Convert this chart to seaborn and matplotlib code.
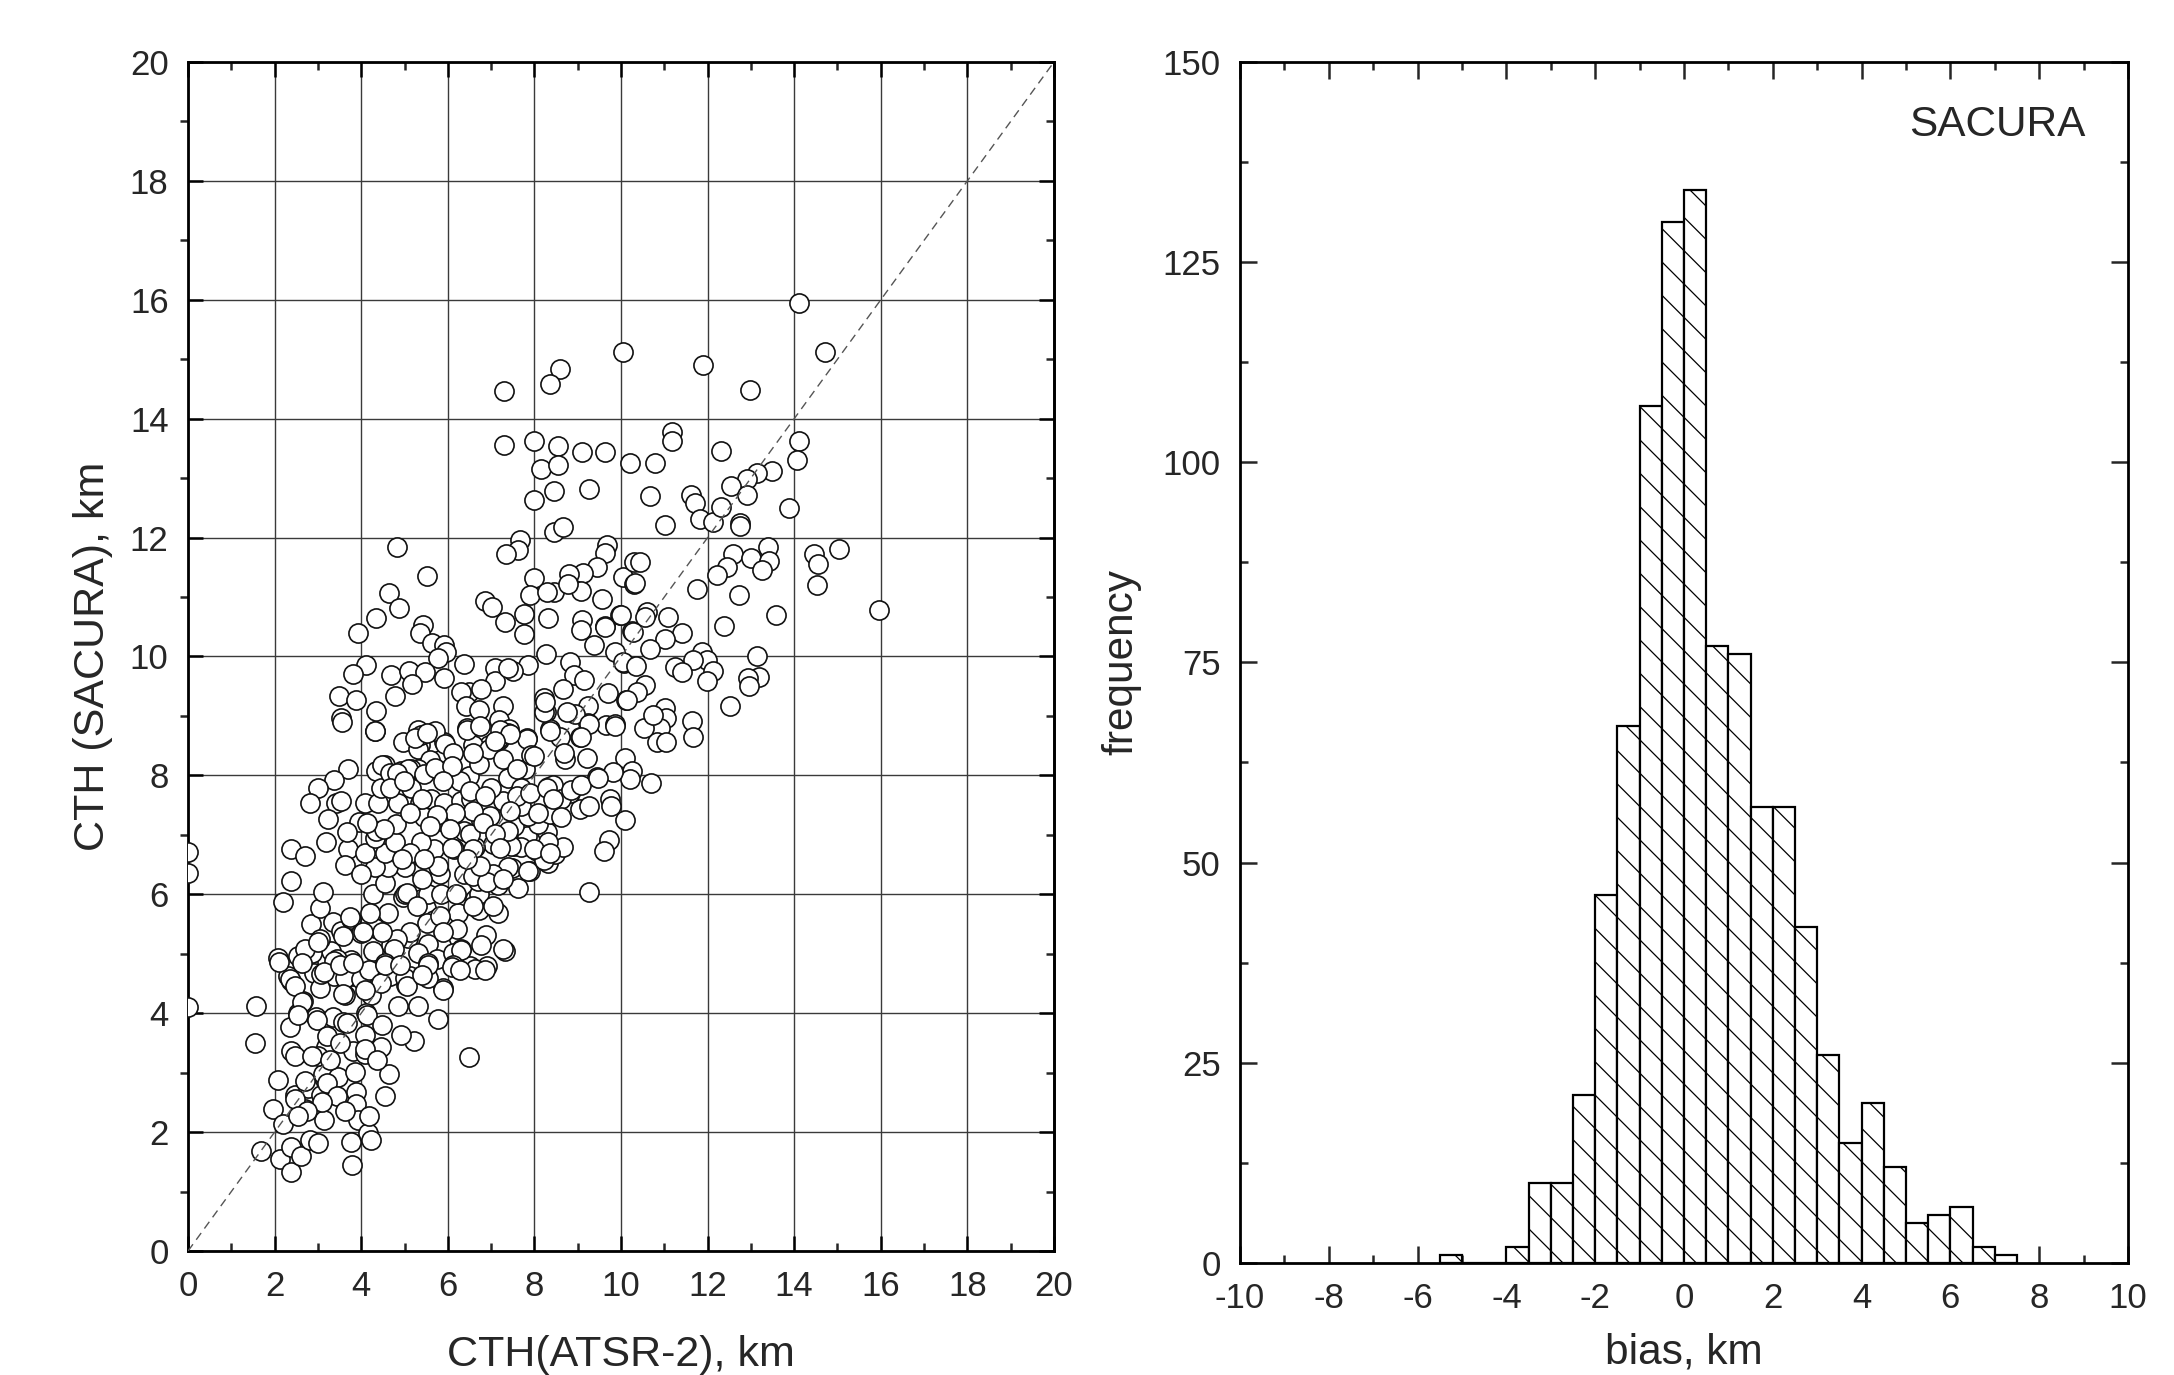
import numpy as np
import pandas as pd
import matplotlib
matplotlib.use("Agg")
import matplotlib.pyplot as plt
from matplotlib.ticker import MultipleLocator
import seaborn as sns

# --- scatter: (CTH ATSR-2, CTH SACURA) in km ---
high_points = [
    (10.05, 15.12), (8.59, 14.83), (8.36, 14.59), (7.3, 14.46), (14.12, 15.94), (14.71, 15.12),
    (11.9, 14.9), (12.97, 14.48), (7.3, 13.55), (8.0, 13.63), (8.55, 13.54), (9.09, 13.44),
    (9.62, 13.44), (10.2, 13.25), (8.16, 13.16), (8.54, 13.22), (8.46, 12.78), (9.25, 12.82),
    (8.0, 12.63), (8.46, 12.09), (8.67, 12.17), (14.1, 13.63), (14.07, 13.31), (11.17, 13.78),
    (11.17, 13.63), (12.31, 13.45), (10.78, 13.25), (13.48, 13.12), (13.13, 13.08), (12.9, 12.98),
    (12.55, 12.87), (12.9, 12.72), (13.89, 12.49), (10.66, 12.7), (11.61, 12.72), (11.71, 12.58),
    (11.82, 12.31), (12.13, 12.27), (12.32, 12.51), (12.76, 12.25), (12.76, 12.2), (11.02, 12.22),
    (4.83, 11.85), (7.67, 11.96), (7.62, 11.79), (7.35, 11.73), (5.53, 11.35), (9.68, 11.87),
    (9.64, 11.74), (9.45, 11.51), (9.12, 11.41), (8.8, 11.39), (7.98, 11.32), (10.04, 11.34),
    (10.3, 11.59), (10.3, 11.22), (4.65, 11.06), (4.88, 10.82), (4.35, 10.64), (3.93, 10.40),
    (7.9, 11.04), (8.46, 11.08), (8.29, 11.09), (9.08, 11.1), (8.77, 11.22), (6.85, 10.94),
    (7.02, 10.83), (9.55, 10.97), (10.44, 11.59), (10.32, 11.24), (11.75, 11.14), (12.59, 11.73),
    (12.44, 11.51), (12.21, 11.37), (13.0, 11.65), (13.4, 11.85), (13.42, 11.6), (13.25, 11.45),
    (14.46, 11.73), (14.55, 11.55), (14.53, 11.21), (15.04, 11.81), (12.73, 11.04), (15.96, 10.78),
    (13.58, 10.69), (12.38, 10.52),
]

middle_points = [
    (7.75, 10.72), (7.32, 10.58), (8.32, 10.65), (9.1, 10.61), (9.08, 10.44), (9.62, 10.51),
    (9.97, 10.7), (10.25, 10.43), (7.77, 10.37), (9.38, 10.19), (5.42, 10.53), (5.36, 10.39),
    (5.64, 10.23), (5.92, 10.19), (5.95, 10.07), (5.77, 9.97), (8.27, 10.04), (7.85, 9.85),
    (8.83, 9.91), (8.92, 9.69), (9.15, 9.6), (9.86, 10.07), (10.06, 9.89), (4.12, 9.85),
    (3.82, 9.7), (3.48, 9.33), (3.87, 9.27), (3.54, 8.96), (4.35, 9.08), (4.31, 8.75),
    (4.68, 9.69), (5.1, 9.76), (5.48, 9.74), (5.92, 9.63), (5.18, 9.54), (4.77, 9.33),
    (6.38, 9.87), (7.08, 9.8), (7.09, 9.58), (7.5, 9.75), (7.38, 9.8), (6.48, 9.41),
    (6.31, 9.41), (6.77, 9.46), (6.42, 9.16), (6.73, 9.1), (7.27, 9.17), (7.18, 8.93),
    (7.41, 8.78), (6.45, 8.79), (8.23, 9.31), (8.27, 9.07), (8.36, 8.78), (8.58, 8.65),
    (9.06, 8.64), (8.65, 9.46), (9.23, 9.17), (9.23, 8.88), (9.65, 8.85), (9.85, 8.87),
    (9.69, 9.38), (10.12, 9.26), (7.83, 8.63), (7.19, 8.6), (6.96, 8.51), (6.58, 8.51),
    (5.92, 8.57), (5.71, 8.74), (5.31, 8.77), (4.96, 8.57), (5.35, 8.51), (10.59, 10.75),
    (10.55, 10.66), (11.09, 10.66), (11.42, 10.4), (11.02, 10.3), (10.67, 10.13), (9.99, 10.7),
    (10.28, 10.42), (9.63, 10.5), (10.05, 9.9), (10.35, 9.84), (11.87, 10.07), (11.98, 9.94),
    (12.13, 9.76), (11.98, 9.58), (11.67, 9.94), (11.25, 9.83), (11.41, 9.74), (13.15, 10.0),
    (13.18, 9.66), (12.94, 9.63), (12.96, 9.5), (12.52, 9.16), (11.65, 8.92), (11.66, 8.65),
    (11.02, 9.13), (11.05, 8.96), (10.9, 8.79), (10.82, 8.57), (11.05, 8.57), (10.52, 8.79),
    (10.75, 9.02), (10.55, 9.52), (10.36, 9.41), (10.13, 9.27), (8.94, 9.04),
]

right_points = [
    (10.09, 8.3), (10.25, 8.08), (10.21, 7.94), (10.69, 7.87), (9.82, 8.05), (9.44, 7.97),
    (9.75, 7.6), (9.78, 7.49), (10.09, 7.25), (9.73, 6.91), (9.61, 6.73), (9.27, 6.04),
    (7.61, 6.1), (7.32, 5.04), (7.52, 6.81), (7.9, 6.39), (7.48, 6.45), (8.32, 6.53),
    (8.48, 6.67), (8.67, 6.79), (8.05, 6.73), (8.28, 7.04), (7.82, 6.98), (7.52, 7.15),
    (8.09, 7.18), (7.86, 7.32), (8.36, 7.35), (8.59, 7.6), (9.05, 7.43), (9.25, 7.49),
    (8.82, 7.71), (8.32, 7.8), (7.78, 8.11), (7.44, 7.97), (7.28, 7.57), (7.82, 8.61),
    (8.36, 8.75), (8.71, 8.28), (9.21, 8.3), (9.25, 8.87), (8.75, 9.06), (8.21, 9.06),
    (8.25, 9.23), (8.42, 7.84), (8.62, 7.6), (8.85, 7.75), (9.08, 7.84), (9.46, 7.96),
    (8.69, 8.38), (9.08, 8.65), (9.85, 8.83), (8.62, 7.3), (7.85, 6.4), (8.23, 6.58),
    (8.31, 6.88), (7.69, 6.79), (7.46, 6.82), (7.15, 6.16), (7.38, 6.46), (7.04, 6.34),
]

core_points = [
    (5.31, 8.44), (5.38, 8.68), (5.81, 8.26), (5.58, 8.26), (5.31, 8.11), (5.15, 8.11),
    (4.92, 8.08), (4.54, 8.17), (4.35, 8.08), (3.69, 8.11), (3.38, 7.93), (3.0, 7.78),
    (2.81, 7.54), (3.42, 7.54), (3.54, 7.57), (3.23, 7.27), (3.19, 6.88), (3.69, 6.76),
    (3.62, 6.49), (3.94, 7.21), (4.08, 7.54), (2.38, 6.76), (2.69, 6.64), (2.38, 6.23),
    (2.19, 5.87), (2.85, 5.5), (3.04, 5.77), (3.35, 5.53), (3.54, 5.38), (3.77, 5.59),
    (4.0, 5.35), (4.31, 5.44), (4.62, 5.68), (4.96, 5.95), (5.0, 6.01), (5.38, 5.92),
    (5.5, 5.77), (5.69, 5.56), (6.04, 5.5), (6.23, 5.68), (6.62, 5.92), (6.73, 5.74),
    (6.88, 5.32), (7.15, 5.68), (6.77, 5.14), (6.31, 5.08), (5.85, 5.14), (5.54, 5.17),
    (5.08, 5.26), (4.69, 5.14), (4.27, 5.05), (3.77, 4.9), (3.31, 5.05), (2.77, 4.84),
    (3.12, 6.04), (4.27, 6.01), (4.54, 6.19), (5.54, 6.01), (5.85, 6.01), (6.19, 6.01),
    (6.73, 6.01), (6.69, 6.22), (6.38, 6.34), (5.81, 6.34), (5.38, 6.4), (5.0, 6.46),
    (4.62, 6.46), (4.31, 6.46), (4.0, 6.34), (7.04, 6.85), (6.62, 6.79), (6.15, 6.76),
    (5.69, 6.76), (5.38, 6.88), (4.92, 6.64), (4.54, 6.7), (4.08, 6.7), (4.31, 6.94),
    (4.77, 6.88), (5.12, 6.7), (4.38, 7.54), (4.85, 7.54), (5.15, 7.78), (5.35, 7.54),
    (5.62, 7.6), (5.92, 7.54), (6.31, 7.57), (6.5, 7.99), (6.73, 8.2), (6.96, 8.44),
    (7.15, 8.62), (7.38, 8.71), (7.92, 8.35), (7.38, 7.96), (7.0, 7.78), (7.69, 7.48),
    (6.77, 7.24), (6.38, 7.06), (5.85, 7.24), (5.46, 7.3), (4.81, 7.18), (4.35, 7.06),
    (4.46, 7.78), (4.77, 7.9), (5.08, 8.11), (5.92, 8.08), (6.27, 7.9), (6.54, 7.6),
    (7.23, 7.24), (7.38, 7.06), (8.08, 7.36), (7.69, 7.78), (3.55, 8.9), (4.32, 8.75),
    (5.25, 8.63), (5.52, 8.72), (5.94, 8.52), (6.44, 8.77), (6.75, 8.83), (7.21, 8.77),
    (7.44, 8.69), (7.09, 8.58), (6.13, 8.38), (6.59, 8.38), (7.28, 8.27), (7.59, 8.1),
    (7.98, 8.32), (4.48, 8.18), (4.67, 8.04), (4.82, 8.04), (5.44, 8.02), (5.71, 8.13),
    (6.09, 8.16), (4.67, 7.79), (4.98, 7.9), (5.4, 7.6), (5.9, 7.9), (6.52, 7.74),
    (6.86, 7.65), (7.59, 7.65), (7.9, 7.71), (8.28, 7.79), (8.44, 7.6), (6.98, 7.32),
    (7.44, 7.4), (6.59, 7.4), (6.17, 7.37), (5.75, 7.34), (5.13, 7.37), (4.52, 7.09),
    (4.13, 7.2), (3.67, 7.04), (4.94, 6.59), (5.59, 7.15), (6.05, 7.09), (6.52, 7.01),
    (6.82, 7.2), (7.09, 7.01), (7.98, 6.76), (8.36, 6.7), (7.21, 6.78), (6.59, 6.76),
    (6.09, 6.78), (5.78, 6.48), (5.44, 6.59), (5.05, 6.03), (5.4, 6.25), (6.59, 6.31),
    (6.9, 6.2), (7.28, 6.25), (6.75, 6.48), (6.44, 6.59), (3.75, 5.61), (4.21, 5.69),
    (5.28, 5.8), (5.52, 5.52), (5.82, 5.64), (6.59, 5.8), (7.05, 5.8), (7.28, 5.08),
    (6.21, 5.41), (5.9, 5.36), (5.13, 5.36), (4.82, 5.24), (4.48, 5.36), (4.05, 5.36),
    (3.59, 5.3), (3.05, 5.24), (2.86, 5.02), (3.44, 4.91), (4.75, 5.08), (5.32, 5.02),
    (5.75, 4.91), (6.13, 5.02), (6.52, 4.8), (6.9, 4.8), (5.13, 4.63), (4.67, 4.63),
    (3.82, 4.63), (3.36, 4.63), (2.9, 4.68),
]

low_points = [
    (0.0, 6.71), (0.0, 6.35), (0.0, 4.1), (2.08, 4.93), (1.58, 4.12), (1.54, 3.5),
    (6.5, 3.26), (5.77, 3.9), (5.88, 4.42), (6.62, 4.75), (6.85, 4.72), (6.31, 5.06),
    (6.12, 4.81), (5.22, 3.53), (4.92, 3.64), (4.65, 2.98), (4.54, 2.6), (3.88, 2.68),
    (3.88, 2.47), (3.92, 2.2), (4.15, 1.99), (4.23, 1.87), (3.77, 1.84), (3.78, 1.45),
    (1.69, 1.69), (1.96, 2.38), (2.08, 2.87), (2.19, 2.13), (2.12, 1.54), (2.37, 1.33),
    (2.38, 1.75), (2.62, 1.6), (2.81, 1.87), (3.0, 1.81), (2.69, 2.38), (2.46, 2.62),
    (2.77, 2.74), (3.15, 2.2), (3.08, 2.62), (3.12, 2.98), (3.46, 2.92), (3.85, 3.01),
    (3.81, 3.37), (3.38, 3.64), (3.19, 3.43), (3.0, 3.28), (2.38, 3.37), (2.46, 3.28),
    (2.35, 3.76), (2.54, 4.0), (2.65, 4.21), (2.96, 3.94), (3.35, 3.94), (3.58, 3.85),
    (4.08, 3.64), (4.08, 3.31), (4.46, 3.43), (2.38, 4.54), (2.31, 4.63), (2.54, 4.96),
    (3.04, 4.42), (3.08, 4.66), (2.69, 5.08), (3.0, 5.2), (3.38, 4.87), (3.62, 4.3),
    (3.62, 4.6), (4.0, 4.57), (4.19, 4.72), (4.23, 4.3), (4.12, 4.0), (4.46, 4.51),
    (4.54, 4.84), (4.85, 4.12), (5.31, 4.12), (5.04, 4.48), (5.0, 4.6), (5.54, 4.84),
    (5.54, 4.6), (2.09, 4.86), (2.63, 4.84), (3.13, 4.7), (3.52, 4.81), (3.82, 4.84),
    (4.55, 4.81), (4.9, 4.81), (5.55, 4.81), (6.09, 4.78), (6.28, 4.72), (2.36, 4.58),
    (2.48, 4.45), (3.59, 4.33), (4.09, 4.39), (5.05, 4.45), (5.4, 4.64), (5.9, 4.39),
    (2.63, 4.19), (2.55, 3.97), (2.98, 3.89), (3.67, 3.83), (4.13, 3.97), (4.48, 3.8),
    (2.86, 3.28), (3.21, 3.61), (3.52, 3.5), (4.09, 3.39), (4.36, 3.22), (3.28, 3.22),
    (2.71, 2.86), (2.48, 2.55), (3.21, 2.83), (3.44, 2.61), (3.09, 2.5), (2.75, 2.36),
    (2.55, 2.27), (3.63, 2.36), (4.17, 2.27),
]

cth_pairs = high_points + middle_points + right_points + core_points + low_points
scatter_df = pd.DataFrame(cth_pairs, columns=["atsr", "sacura"])

# --- histogram of the bias (0.5 km bins), counts ---
bias_bin_left = [-5.5, -5.0, -4.5, -4.0, -3.5, -3.0, -2.5, -2.0, -1.5, -1.0, -0.5, 0.0, 0.5,
                 1.0, 1.5, 2.0, 2.5, 3.0, 3.5, 4.0, 4.5, 5.0, 5.5, 6.0, 6.5, 7.0]
bias_count = [1, 0, 0, 2, 10, 10, 21, 46, 67, 107, 130, 134, 77,
              76, 57, 57, 42, 26, 15, 20, 12, 5, 6, 7, 2, 1]
bin_width = 0.5
hist_df = pd.DataFrame({"bias": np.array(bias_bin_left) + bin_width / 2, "count": bias_count})
bin_edges = [float(b) for b in bias_bin_left] + [bias_bin_left[-1] + bin_width]

sns.set_style("ticks")
plt.rcParams["font.family"] = ["Liberation Sans", "DejaVu Sans"]
plt.rcParams["axes.unicode_minus"] = False
plt.rcParams["hatch.linewidth"] = 0.9
plt.rcParams["axes.linewidth"] = 2.0

fig = plt.figure(figsize=(21.74, 13.75), dpi=100)
ax1 = fig.add_axes([0.0865, 0.0902, 0.3983, 0.8647])
ax2 = fig.add_axes([0.5704, 0.0815, 0.4084, 0.8735])

# scatter panel
ax1.set_axisbelow(True)
ax1.grid(True, which="major", color="#3a3a3a", linewidth=1.0)
sns.scatterplot(data=scatter_df, x="atsr", y="sacura", ax=ax1, s=190, color="white",
                edgecolor="#111111", linewidth=1.2, zorder=3, legend=False)
ax1.axline((0, 0), slope=1, color="#555555", linewidth=1.0, linestyle=(0, (6, 4)), zorder=4)

ax1.set_xlim(0, 20)
ax1.set_ylim(0, 20)
for axis in (ax1.xaxis, ax1.yaxis):
    axis.set_major_locator(MultipleLocator(2))
    axis.set_minor_locator(MultipleLocator(1))
ax1.tick_params(which="major", direction="in", length=11, width=1.8, top=True, right=True,
                labelsize=25, pad=14, color="black")
ax1.tick_params(axis="x", which="minor", direction="in", length=5.5, width=1.8, top=True, bottom=True)
ax1.tick_params(axis="y", which="minor", direction="out", length=6, width=1.8, left=True, right=False)
sec = ax1.secondary_yaxis("right")
sec.yaxis.set_major_locator(MultipleLocator(2))
sec.yaxis.set_minor_locator(MultipleLocator(1))
sec.tick_params(which="major", length=0, labelright=False)
sec.tick_params(which="minor", direction="in", length=5.5, width=1.8)
sec.spines["right"].set_linewidth(2.0)

ax1.set_xlabel("CTH(ATSR-2), km", fontsize=31, labelpad=23)
ax1.set_ylabel("CTH (SACURA), km", fontsize=31, labelpad=12)

# histogram panel
sns.histplot(data=hist_df, x="bias", weights="count", bins=bin_edges, ax=ax2,
             color="white", edgecolor="black", linewidth=1.6, hatch="\\", alpha=1.0)
ax2.set_xlim(-10, 10)
ax2.set_ylim(0, 150)
ax2.xaxis.set_major_locator(MultipleLocator(2))
ax2.xaxis.set_minor_locator(MultipleLocator(1))
ax2.yaxis.set_major_locator(MultipleLocator(25))
ax2.yaxis.set_minor_locator(MultipleLocator(12.5))
ax2.tick_params(which="major", direction="in", length=12, width=1.8, top=True, right=True,
                labelsize=25, pad=14)
ax2.tick_params(which="minor", direction="in", length=6, width=1.8, top=True, right=True)
ax2.set_xlabel("bias, km", fontsize=30.5, labelpad=12)
ax2.set_ylabel("frequency", fontsize=30.5, labelpad=15)
ax2.text(0.952, 0.964, "SACURA", transform=ax2.transAxes, ha="right", va="top", fontsize=30.5)

for ax in (ax1, ax2):
    for sp in ax.spines.values():
        sp.set_visible(True)
        sp.set_linewidth(2.0)
        sp.set_color("black")

fig.savefig("out.png", dpi=100)
